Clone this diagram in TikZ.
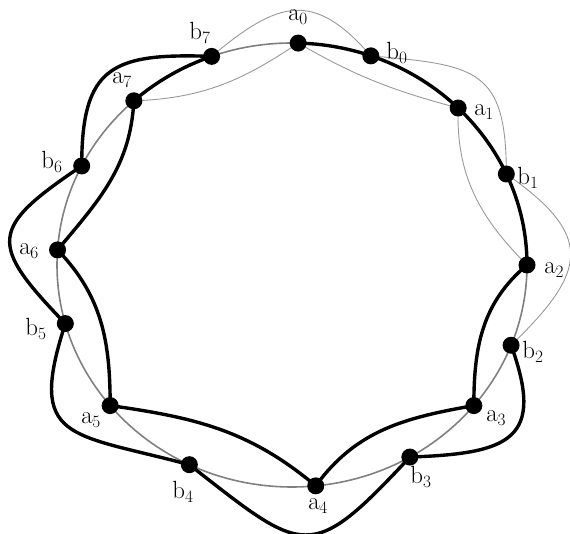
\documentclass[tikz,border=0pt]{standalone}
\begin{document}
\begin{tikzpicture}[x=1pt,y=1pt,
  circ/.style={draw=black!50, line width=1.6pt},
  thk/.style={draw=black, line width=3.4pt, line cap=round},
  thn/.style={draw=black!40, line width=0.9pt},
  dot/.style={circle, fill=black, inner sep=0pt, minimum size=17pt},
  lbl/.style={font=\fontsize{23}{26}\selectfont, inner sep=0pt},
  bseg/.style={looseness=1.4}]
\useasboundingbox (0,0) rectangle (570,534);
\coordinate (O) at (292,269);
\foreach \n/\t in {a0/88.5, b0/70.4, a1/45, b1/24.2, a2/0, b2/-21.2, a3/-39.3, b3/-59.9,
                   a4/-84.2, b4/-115.9, a5/-140.7, b5/-164.7, a6/176.1, b6/153.5, a7/132.3, b7/110}
  \coordinate (\n) at ([shift={(O)}]\t:235pt and 222pt);
% reference circle
\draw[circ] (O) ellipse [x radius=235pt, y radius=222pt];
% thick arcs along the circle
\draw[thk] ([shift={(O)}]132.3:235pt and 222pt) arc[start angle=132.3, end angle=110, x radius=235pt, y radius=222pt];
\draw[thk] ([shift={(O)}]88.5:235pt and 222pt) arc[start angle=88.5, end angle=0, x radius=235pt, y radius=222pt];
% thin inner (a) and outer (b) curves
\draw[thn] (a7) to[out=2, in=214] (a0);
\draw[thn] (a0) to[out=-30, in=165] (a1);
\draw[thn] (a1) to[out=-92, in=135] (a2);
\draw[thn] (b7) to[out=40, in=131, bseg] (b0);
\draw[thn] (b0) to[out=-5, in=90, looseness=1.5] (b1);
\draw[thn] (b1) to[out=-35, in=44, looseness=1.6] (b2);
% thick inner curves
\draw[thk] (a2) to[out=-140, in=90] (a3);
\draw[thk] (a3) to[out=-170, in=54] (a4);
\draw[thk] (a4) to[out=140, in=-8] (a5);
\draw[thk] (a5) to[out=90, in=-46] (a6);
\draw[thk] (a6) to[out=50, in=-93] (a7);
% thick outer curves
\draw[thk] (b2) to[out=-70, in=2, looseness=1.7] (b3);
\draw[thk] (b3) to[out=-133, in=-38, looseness=1.7] (b4);
\draw[thk] (b4) to[out=165, in=-108, looseness=1.7] (b5);
\draw[thk] (b5) to[out=134, in=214, looseness=1.8] (b6);
\draw[thk] (b6) to[out=90, in=178, looseness=1.5] (b7);
% dots
\foreach \n in {a0,b0,a1,b1,a2,b2,a3,b3,a4,b4,a5,b5,a6,b6,a7,b7}
  \node[dot] (d\n) at (\n) {};
% labels
\node[lbl] (la0) at (298,517) {$\mathrm{a}_0$};
\node[lbl] (lb0) at (397,481) {$\mathrm{b}_0$};
\node[lbl] (la1) at (484,422) {$\mathrm{a}_1$};
\node[lbl] (lb1) at (528,356) {$\mathrm{b}_1$};
\node[lbl] (la2) at (554,264) {$\mathrm{a}_2$};
\node[lbl] (lb2) at (533,182) {$\mathrm{b}_2$};
\node[lbl] (la3) at (496,116) {$\mathrm{a}_3$};
\node[lbl] (lb3) at (421,57) {$\mathrm{b}_3$};
\node[lbl] (la4) at (318,28) {$\mathrm{a}_4$};
\node[lbl] (lb4) at (183,42) {$\mathrm{b}_4$};
\node[lbl] (la5) at (91,114) {$\mathrm{a}_5$};
\node[lbl] (lb5) at (36,205) {$\mathrm{b}_5$};
\node[lbl] (la6) at (29,283) {$\mathrm{a}_6$};
\node[lbl] (lb6) at (52,372) {$\mathrm{b}_6$};
\node[lbl] (la7) at (122,454) {$\mathrm{a}_7$};
\node[lbl] (lb7) at (200,501) {$\mathrm{b}_7$};
\end{tikzpicture}
\end{document}
